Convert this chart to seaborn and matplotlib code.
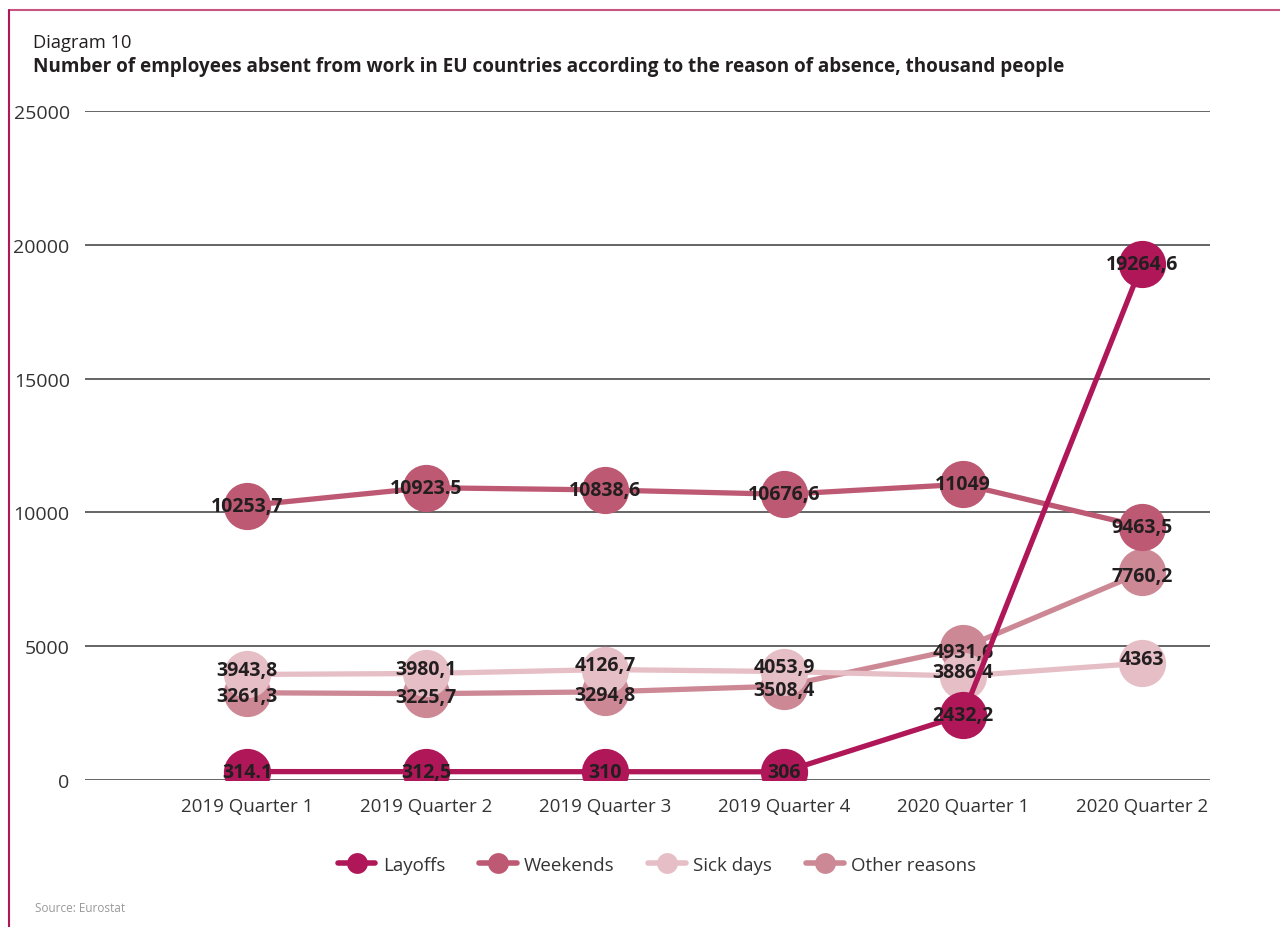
import matplotlib
matplotlib.use("Agg")
import matplotlib.pyplot as plt
from matplotlib.lines import Line2D
import pandas as pd
import seaborn as sns

quarters = ["2019 Quarter 1", "2019 Quarter 2", "2019 Quarter 3",
            "2019 Quarter 4", "2020 Quarter 1", "2020 Quarter 2"]

layoffs = [314.1, 312.5, 310, 306, 2432.2, 19264.6]
weekends = [10253.7, 10923.5, 10838.6, 10676.6, 11049, 9463.5]
sick_days = [3943.8, 3980.1, 4126.7, 4053.9, 3886.4, 4363]
other_reasons = [3261.3, 3225.7, 3294.8, 3508.4, 4931.6, 7760.2]

# labels as printed in the source (mixed decimal marks)
layoffs_lbl = ["314.1", "312,5", "310", "306", "2432,2", "19264,6"]
weekends_lbl = ["10253,7", "10923.5", "10838,6", "10676,6", "11049", "9463,5"]
sick_lbl = ["3943,8", "3980,1", "4126,7", "4053,9", "3886,4", "4363"]
other_lbl = ["3261,3", "3225,7", "3294,8", "3508,4", "4931,6", "7760,2"]

y_ticks = [0, 5000, 10000, 15000, 20000, 25000]

series = [
    ("Layoffs", layoffs, layoffs_lbl, "#B01758"),
    ("Weekends", weekends, weekends_lbl, "#BE5973"),
    ("Sick days", sick_days, sick_lbl, "#E6BEC6"),
    ("Other reasons", other_reasons, other_lbl, "#CD8895"),
]
# drawing order (bottom to top) and small vertical nudge of the value labels
z_order = {"Other reasons": 2, "Sick days": 3, "Weekends": 4, "Layoffs": 5}
nudge = {"Other reasons": -2.5, "Sick days": 3, "Weekends": 0, "Layoffs": 0}

sns.set_theme(style="white")
plt.rcParams["font.family"] = ["Open Sans", "DejaVu Sans"]

fig = plt.figure(figsize=(12.8, 9.28), dpi=100)
ax = fig.add_axes([85 / 1280, 1 - 781 / 928, 1125 / 1280, 669 / 928])

for name, vals, lbls, col in series:
    df = pd.DataFrame({"quarter": quarters, "value": vals})
    z = z_order[name]
    sns.lineplot(data=df, x="quarter", y="value", sort=False, color=col,
                 linewidth=3.8, marker="o", markersize=34,
                 markeredgewidth=0, ax=ax, zorder=z)
    # labels sit above all markers, only the layoffs line runs over them
    lz = 5.1 if name == "Layoffs" else 4.5
    for i, (v, t) in enumerate(zip(vals, lbls)):
        ax.annotate(t, (i, v), xytext=(0, nudge[name]), textcoords="offset points",
                    ha="center", va="center", fontsize=14,
                    fontweight="bold", color="#231F20", zorder=lz)

ax.set_xlim(-0.905, 5.38)
ax.set_ylim(0, 25000)
ax.set_yticks(y_ticks)
ax.set_yticklabels([str(t) for t in y_ticks])
ax.set_xlabel("")
ax.set_ylabel("")
for s in ax.spines.values():
    s.set_visible(False)
ax.grid(axis="y", color="#3a3a3a", linewidth=1.1, zorder=0)
ax.set_axisbelow(True)
ax.tick_params(axis="y", length=0, pad=11, labelsize=14, labelcolor="#333333")
ax.tick_params(axis="x", length=0, pad=12, labelsize=13.5, labelcolor="#333333")

handles = [Line2D([0], [0], color=col, lw=4, marker="o", markersize=15,
                  markeredgewidth=0) for _, _, _, col in series]
fig.legend(handles, [s[0] for s in series], loc="center",
           bbox_to_anchor=(657 / 1280, 1 - 866 / 928), ncol=4, frameon=False,
           fontsize=13.5, handlelength=2.0, columnspacing=1.8,
           handletextpad=0.4, labelcolor="#333333")

fig.text(33 / 1280, 1 - 43 / 928, "Diagram 10", fontsize=13.2,
         color="#231F20", va="center")
fig.text(33 / 1280, 1 - 67 / 928,
         "Number of employees absent from work in EU countries according to the reason of absence, thousand people",
         fontsize=13.6, fontweight="bold", color="#231F20", va="center")
fig.text(35 / 1280, 1 - 909 / 928, "Source: Eurostat", fontsize=8.5,
         color="#999999", va="center")

# frame lines at top and left
fig.add_artist(Line2D([9 / 1280, 1], [1 - 10.5 / 928] * 2, color="#C85580",
                      lw=1.5, transform=fig.transFigure))
fig.add_artist(Line2D([9 / 1280] * 2, [0, 1 - 10.5 / 928], color="#B01758",
                      lw=1.5, transform=fig.transFigure))

fig.savefig("out.png", dpi=100)
